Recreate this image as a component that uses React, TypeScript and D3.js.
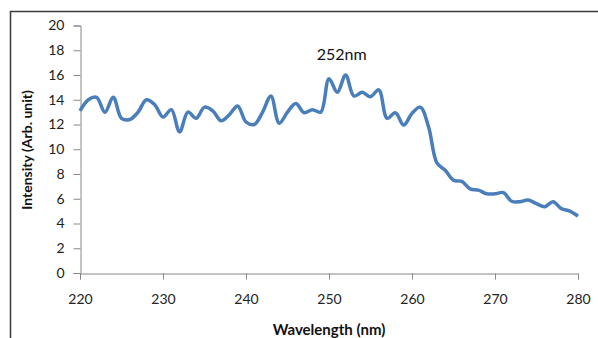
import React, { useEffect, useRef } from 'react';
import * as d3 from 'd3';

// wavelength (nm) and intensity
const wavelengths = d3.range(220, 281);
const intensity = [
    13.1, 14.0, 14.2, 13.0, 14.2, 12.5, 12.4, 13.0, 14.0, 13.6,
    12.6, 13.2, 11.4, 13.0, 12.5, 13.4, 13.1, 12.3, 12.8, 13.5,
    12.2, 12.0, 13.0, 14.3, 12.1, 13.0, 13.7, 12.95, 13.2, 13.0,
    15.7, 14.6, 16.0, 14.3, 14.6, 14.25, 14.8, 12.5, 12.95, 11.95,
    12.9, 13.4, 11.8, 8.9, 8.3, 7.5, 7.4, 6.8, 6.7, 6.4,
    6.4, 6.5, 5.8, 5.76, 5.9, 5.6, 5.36, 5.76, 5.2, 5.0,
    4.6,
];
const xTicks = [220, 230, 240, 250, 260, 270, 280];
const yTicks = [0, 2, 4, 6, 8, 10, 12, 14, 16, 18, 20];
const peakLabel = { x: 252, y: 16, text: '252nm' };

const W = 598;
const H = 338;
const font = 'Lato, "Open Sans", sans-serif';

export default function App() {
    const svgRef = useRef<SVGSVGElement | null>(null);

    useEffect(() => {
        if (!svgRef.current) return;
        const svg = d3.select(svgRef.current);
        svg.selectAll('*').remove();

        // outer chart frame (runs off the right and bottom)
        svg.append('rect')
            .attr('x', 10.5).attr('y', 11.5)
            .attr('width', 620).attr('height', 360)
            .attr('fill', 'none')
            .attr('stroke', '#3a3a3a')
            .attr('stroke-width', 1.5);

        const x = d3.scaleLinear().domain([220, 280]).range([80, 578]);
        const y = d3.scaleLinear().domain([0, 20]).range([273, 25.5]);

        const axisColor = '#888';

        // y axis
        const yAxis = svg.append('g')
            .attr('transform', 'translate(80.5,0)')
            .call(d3.axisLeft(y).tickValues(yTicks).tickSize(7).tickPadding(9));
        yAxis.select('.domain').attr('stroke', axisColor);
        yAxis.selectAll('.tick line').attr('stroke', axisColor);
        yAxis.selectAll('.tick text')
            .attr('fill', '#222')
            .style('font-family', font)
            .style('font-size', '14px');

        // x axis
        const xAxis = svg.append('g')
            .attr('transform', 'translate(0,273.5)')
            .call(d3.axisBottom(x).tickValues(xTicks).tickSize(6).tickSizeOuter(6).tickPadding(15));
        xAxis.select('.domain').attr('stroke', axisColor);
        xAxis.selectAll('.tick line').attr('stroke', axisColor);
        xAxis.selectAll('.tick text')
            .attr('fill', '#222')
            .style('font-family', font)
            .style('font-size', '14px');

        // spectrum line
        const line = d3.line<number>()
            .x((d, i) => x(wavelengths[i]))
            .y(d => y(d))
            .curve(d3.curveCatmullRom.alpha(0.5));

        svg.append('path')
            .datum(intensity)
            .attr('d', line)
            .attr('fill', 'none')
            .attr('stroke', '#4a7ebb')
            .attr('stroke-width', 3.5)
            .attr('stroke-linejoin', 'round');

        // peak annotation
        svg.append('text')
            .attr('x', x(peakLabel.x) - 4)
            .attr('y', y(peakLabel.y) - 15)
            .attr('text-anchor', 'middle')
            .style('font-family', font)
            .style('font-size', '16px')
            .attr('fill', '#111')
            .text(peakLabel.text);

        // axis titles
        svg.append('text')
            .attr('x', 329)
            .attr('y', 335)
            .attr('text-anchor', 'middle')
            .style('font-family', font)
            .style('font-size', '15px')
            .style('font-weight', 'bold')
            .attr('fill', '#111')
            .text('Wavelength (nm)');

        svg.append('text')
            .attr('transform', 'translate(32,150) rotate(-90)')
            .attr('text-anchor', 'middle')
            .style('font-family', font)
            .style('font-size', '14px')
            .style('font-weight', 'bold')
            .attr('fill', '#111')
            .text('Intensity (Arb. unit)');
    }, []);

    return (
        <svg
            ref={svgRef}
            width={W}
            height={H}
            style={{ position: 'absolute', left: 0, top: 0, background: '#fff' }}
        />
    );
}
